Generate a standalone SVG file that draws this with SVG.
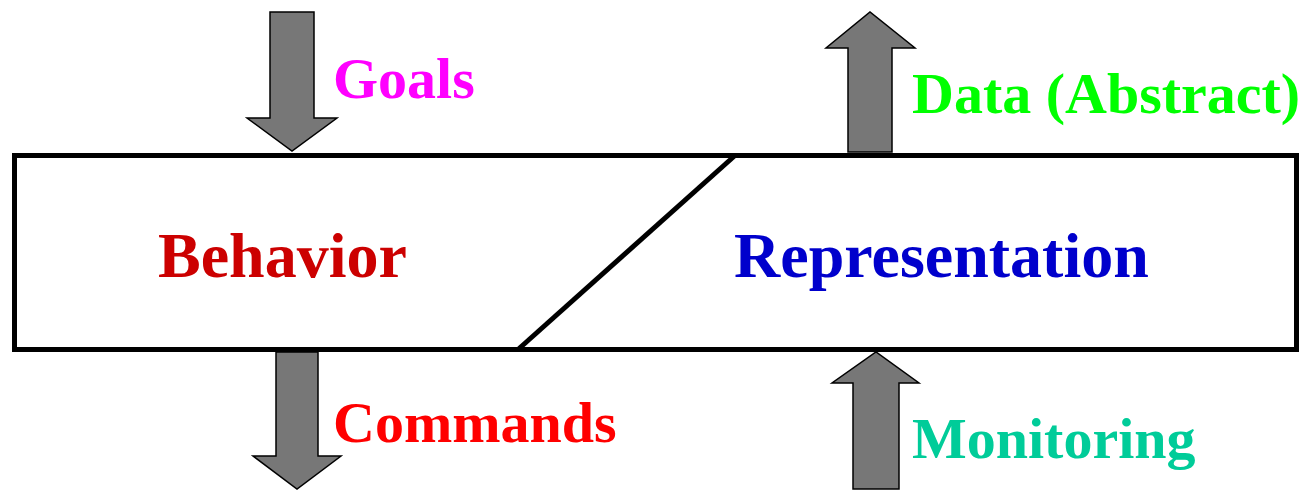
<svg xmlns="http://www.w3.org/2000/svg" width="1305" height="490" viewBox="0 0 1305 490">
  <style>
    .arrow { fill: #777777; stroke: #000000; stroke-width: 1.5; stroke-linejoin: miter; }
    .frame { fill: #ffffff; stroke: #000000; stroke-width: 5; }
    .divider { stroke: #000000; stroke-width: 5; fill: none; }
    .lbl { font-family: "Liberation Serif", "Times New Roman", serif; font-weight: bold; font-size: 58px; }
    .big { font-family: "Liberation Serif", "Times New Roman", serif; font-weight: bold; font-size: 64px; }
  </style>
  <rect width="1305" height="490" fill="#ffffff"/>

  <!-- main block split into two halves by a slanted divider -->
  <g id="block">
    <rect class="frame" x="14.5" y="155.5" width="1282" height="194"/>
  </g>

  <g id="connectors">
    <line class="divider" x1="518" y1="349.5" x2="735" y2="155.5"/>
    <!-- Goals: down into the block -->
    <polygon class="arrow" points="270,12 314,12 314,118 337,118 292,151 247,118 270,118"/>
    <!-- Data (Abstract): up out of the block -->
    <polygon class="arrow" points="848,152 892,152 892,48 915,48 870,12 826,48 848,48"/>
    <!-- Commands: down out of the block -->
    <polygon class="arrow" points="276,352 318,352 318,456 341,456 297,489 253,456 276,456"/>
    <!-- Monitoring: up into the block -->
    <polygon class="arrow" points="853,489 899,489 899,383 919,383 876,352 832,383 853,383"/>
  </g>

  <g id="behavior">
    <text class="big" x="158" y="277" fill="#cc0000">Behavior</text>
  </g>
  <g id="representation">
    <text class="big" x="734" y="277" fill="#0000cc">Representation</text>
  </g>

  <g id="goals">
    <text class="lbl" x="333" y="98" fill="#ff00ff">Goals</text>
  </g>
  <g id="data">
    <text class="lbl" x="912" y="113" fill="#00ff00">Data (Abstract)</text>
  </g>
  <g id="commands">
    <text class="lbl" x="333" y="442" fill="#ff0000">Commands</text>
  </g>
  <g id="monitoring">
    <text class="lbl" x="912" y="458" fill="#00cc99">Monitoring</text>
  </g>
</svg>
